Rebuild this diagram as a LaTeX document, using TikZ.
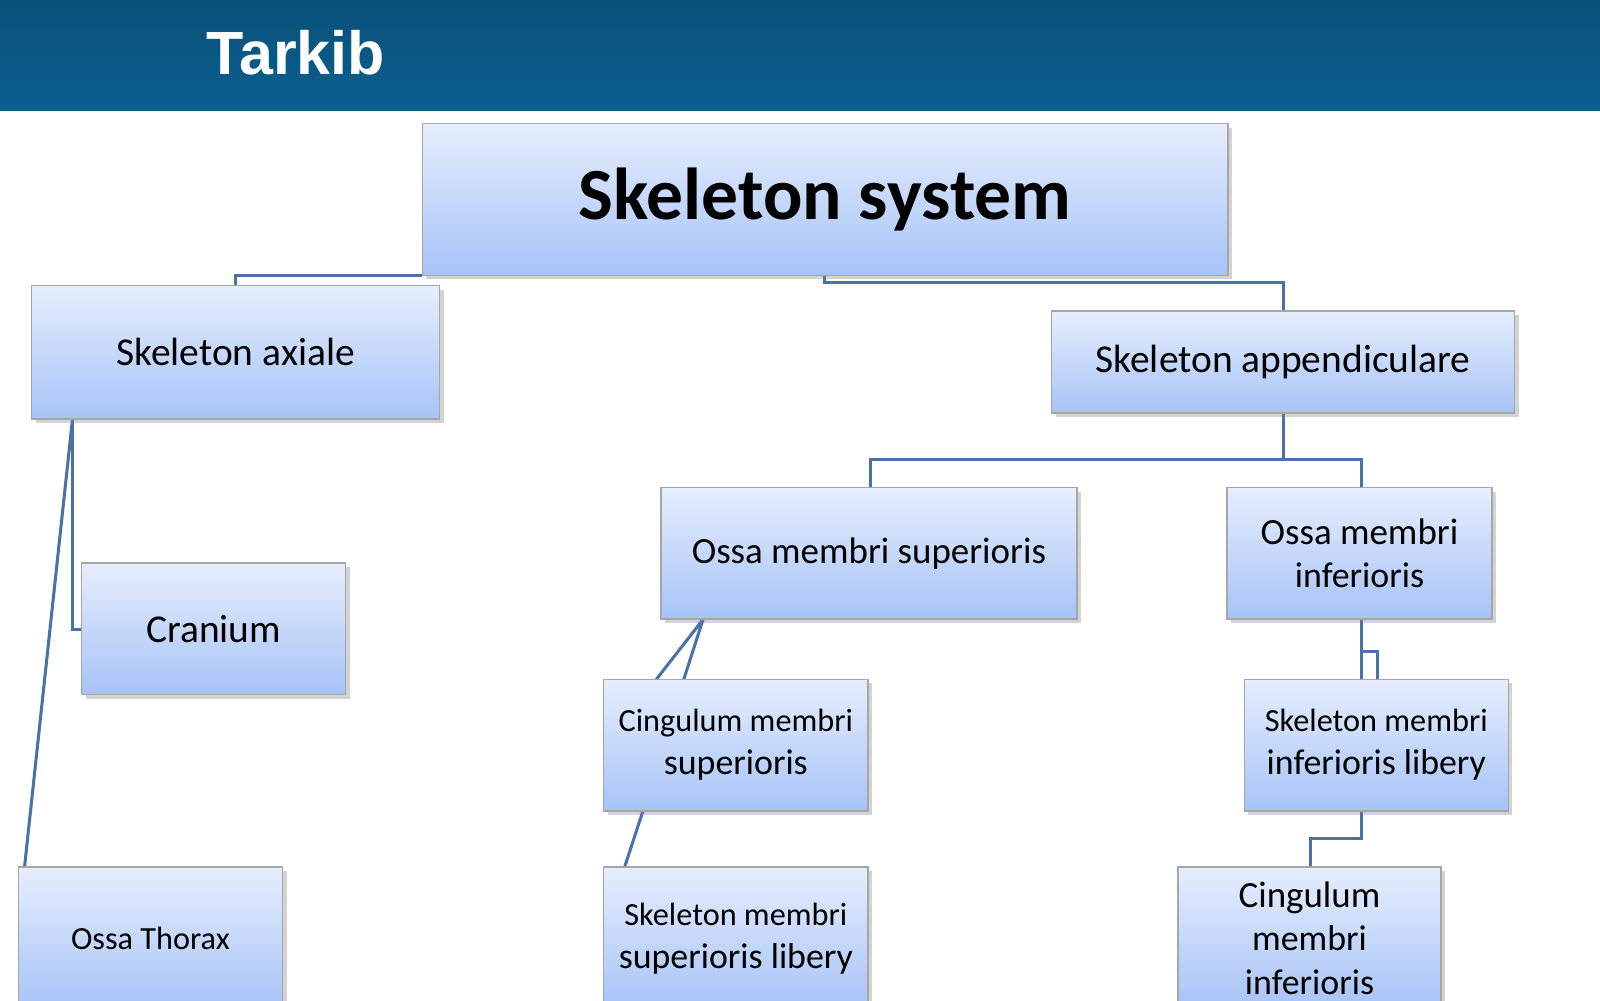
\documentclass[tikz,border=0pt]{standalone}
\usepackage{fontspec}
\setmainfont{Carlito}
\newfontfamily\hdr{Liberation Sans}
\usetikzlibrary{shadows}
\definecolor{band}{HTML}{0A5F8F}
\definecolor{lnk}{HTML}{4A72A8}
\definecolor{btop}{HTML}{E6EEFD}
\definecolor{bbot}{HTML}{A6C3F7}
\tikzset{
 box/.style={draw=black!35, line width=0.4pt, top color=btop, bottom color=bbot, align=center, inner sep=0pt,
   drop shadow={shadow xshift=0.04cm, shadow yshift=-0.04cm, opacity=0.35}},
 lk/.style={draw=lnk, line width=0.85pt}
}
\newcommand{\bx}[6]{\node[box, minimum width=#4*0.01cm-#2*0.01cm, minimum height=#5*0.01cm-#3*0.01cm] (#1) at ({(#2+#4)/2*0.01},{-(#3+#5)/2*0.01}) {#6};}
\begin{document}
\begin{tikzpicture}
\useasboundingbox (0,0) rectangle (15.68,-9.8);
\clip (0,0) rectangle (15.68,-9.8);
\fill[top color=band!85!black, bottom color=band] (0,0) rectangle (15.68,-1.08);
\node[anchor=west, text=white, font=\hdr\bfseries\fontsize{17}{20}\selectfont] (t) at (1.9,-0.52) {Tarkib};
% connectors
\coordinate (m1) at (2.31,-2.70); \coordinate (m2) at (4.14,-2.70);
\draw[lk] (2.31,-2.80) -- (m1) -- (m2);
\draw[lk] (8.08,-2.70) -- (8.08,-2.77) -- (12.58,-2.77) -- (12.58,-3.05);
\draw[lk] (12.58,-4.05) -- (12.58,-4.50) (8.53,-4.78) -- (8.53,-4.50) -- (13.34,-4.50) -- (13.34,-4.78);
\draw[lk] (0.71,-4.11) -- (0.71,-6.17) -- (0.80,-6.17);
\draw[lk] (0.71,-4.11) -- (0.24,-8.50);
\draw[lk] (6.89,-6.07) -- (6.43,-6.66) (6.89,-6.07) -- (6.70,-6.66);
\draw[lk] (6.30,-7.95) -- (6.12,-8.50);
\draw[lk] (13.34,-6.07) -- (13.34,-6.66) (13.34,-6.38) -- (13.50,-6.38) -- (13.50,-6.66);
\draw[lk] (13.34,-7.95) -- (13.34,-8.22) -- (12.84,-8.22) -- (12.84,-8.50);
% boxes
\bx{main}{414}{121}{1204}{270}{\bfseries\fontsize{20.5}{24}\selectfont Skeleton system}
\bx{ax}{31}{280}{431}{411}{\fontsize{11}{13}\selectfont Skeleton axiale}
\bx{ap}{1031}{305}{1485}{405}{\fontsize{11}{13}\selectfont Skeleton appendiculare}
\bx{sup}{648}{478}{1056}{607}{\fontsize{10.3}{12.4}\selectfont Ossa membri superioris}
\bx{inf}{1203}{478}{1463}{607}{\fontsize{10.3}{12.4}\selectfont Ossa membri\\ inferioris}
\bx{cr}{80}{552}{339}{681}{\fontsize{11}{13}\selectfont Cranium}
\bx{cms}{592}{666}{851}{795}{\fontsize{9}{11}\selectfont Cingulum membri\\ superioris}
\bx{smil}{1220}{666}{1479}{795}{\fontsize{9}{11}\selectfont Skeleton membri\\ inferioris libery}
\bx{ot}{18}{850}{277}{990}{\fontsize{9}{11}\selectfont Ossa Thorax}
\bx{smsl}{592}{850}{851}{990}{\fontsize{9}{11}\selectfont Skeleton membri\\ superioris libery}
\bx{cmi}{1155}{850}{1413}{990}{\fontsize{10.3}{12.2}\selectfont Cingulum\\ membri\\ inferioris}
\end{tikzpicture}
\end{document}
